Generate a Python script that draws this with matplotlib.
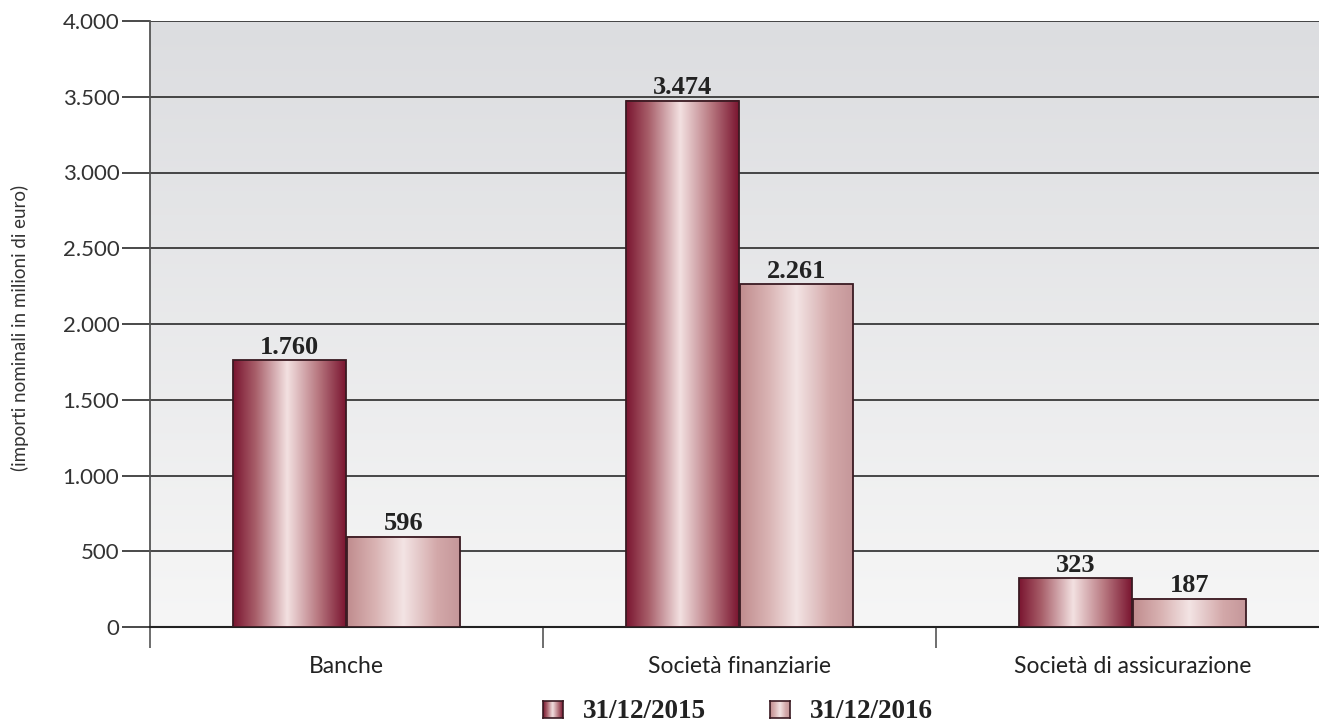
"""Bar chart: importi nominali per tipo di intermediario, 2015 vs 2016."""
import matplotlib

matplotlib.use("Agg")
import matplotlib.pyplot as plt
import numpy as np
from matplotlib.colors import LinearSegmentedColormap

categories = ["Banche", "Società finanziarie", "Società di assicurazione"]
series_labels = ["31/12/2015", "31/12/2016"]
values_2015 = [1760, 3474, 323]
values_2016 = [596, 2261, 187]
y_ticks = [0, 500, 1000, 1500, 2000, 2500, 3000, 3500, 4000]
y_tick_labels = ["0", "500", "1.000", "1.500", "2.000", "2.500", "3.000", "3.500", "4.000"]
y_label = "(importi nominali in milioni di euro)"

cmap_2015 = LinearSegmentedColormap.from_list(
    "c2015",
    [(0.0, "#7a1530"), (0.2, "#a85f6a"), (0.48, "#f3e1e1"), (0.75, "#b97a82"), (1.0, "#7a1530")],
)
cmap_2016 = LinearSegmentedColormap.from_list(
    "c2016",
    [(0.0, "#c08c8e"), (0.25, "#d9b3b3"), (0.5, "#f3e4e4"), (0.8, "#d3a8a9"), (1.0, "#c5979a")],
)
bg_cmap = LinearSegmentedColormap.from_list("bg", ["#f6f6f6", "#dcdde0"])

serif_bold = {"family": ["Liberation Serif"], "weight": "bold"}
tick_font = ["Lato", "DejaVu Sans"]


def fmt_it(v):
    return f"{v:,}".replace(",", ".")


def gradient_bar(ax, x, width, height, cmap):
    grad = np.linspace(0, 1, 256).reshape(1, -1)
    ax.imshow(grad, cmap=cmap, aspect="auto", extent=(x - width / 2, x + width / 2, 0, height),
              zorder=3, interpolation="bicubic")
    ax.bar(x, height, width, facecolor="none", edgecolor="#3a1a22", linewidth=1.3, zorder=4)
    ax.annotate(fmt_it(height), (x, height), xytext=(0, 1), textcoords="offset points",
                ha="center", va="bottom", fontsize=19, color="#222222", zorder=5, **serif_bold)


fig = plt.figure(figsize=(13.19, 7.22), dpi=100)
ax = fig.add_axes([150 / 1319, 1 - 627 / 722, 1 - 150 / 1319, (627 - 21) / 722])

ax.set_xlim(-0.5, 2.475)
ax.set_ylim(0, 4000)

# vertical background shading of the plot area
ax.imshow(np.linspace(0, 1, 256).reshape(-1, 1), cmap=bg_cmap, origin="lower", aspect="auto",
          extent=(-0.5, 2.5, 0, 4000), zorder=0)

x = np.arange(len(categories))
w = 0.287
offset = 0.1445
for i in range(len(categories)):
    gradient_bar(ax, x[i] - offset, w, values_2015[i], cmap_2015)
    gradient_bar(ax, x[i] + offset, w, values_2016[i], cmap_2016)

ax.set_yticks(y_ticks)
ax.set_yticklabels(y_tick_labels, family=tick_font, fontsize=16, color="#333333")
ax.yaxis.grid(True, color="#2a2a2a", linewidth=1.2, zorder=1)
ax.set_axisbelow(True)
ax.tick_params(axis="y", direction="out", length=20, width=1.2, color="#2a2a2a", pad=2)

ax.set_xticks([-0.5, 0.5, 1.5])
ax.set_xticklabels([])
ax.set_xticks(x, minor=True)
ax.set_xticklabels(categories, minor=True, family=tick_font, fontsize=16.5, color="#222222")
ax.tick_params(axis="x", which="major", direction="out", length=15, width=1.2, color="#555555")
ax.tick_params(axis="x", which="minor", length=0, pad=21)

for side in ["right", "top"]:
    ax.spines[side].set_visible(False)
ax.spines["left"].set_color("#555555")
ax.spines["left"].set_linewidth(1.3)
ax.spines["bottom"].set_color("#222222")
ax.spines["bottom"].set_linewidth(1.5)

fig.text(20 / 1319, 1 - 328 / 722, y_label, rotation=90, ha="center", va="center",
         fontsize=13.5, color="#333333", family=tick_font)

# legend drawn with small gradient swatches
grad = np.linspace(0, 1, 128).reshape(1, -1)
legend_items = [(543, 583, cmap_2015, series_labels[0]), (770, 810, cmap_2016, series_labels[1])]
for sx, tx, cmap, label in legend_items:
    sw = fig.add_axes([sx / 1319, 1 - 718 / 722, 20 / 1319, 17 / 722])
    sw.imshow(grad, cmap=cmap, aspect="auto", interpolation="bicubic")
    sw.set_xticks([])
    sw.set_yticks([])
    for s in sw.spines.values():
        s.set_color("#3a1a22")
        s.set_linewidth(1.2)
    fig.text(tx / 1319, 1 - 711 / 722, label, ha="left", va="center", fontsize=19.5,
             color="#222222", **serif_bold)

fig.savefig("out.png", dpi=100)
